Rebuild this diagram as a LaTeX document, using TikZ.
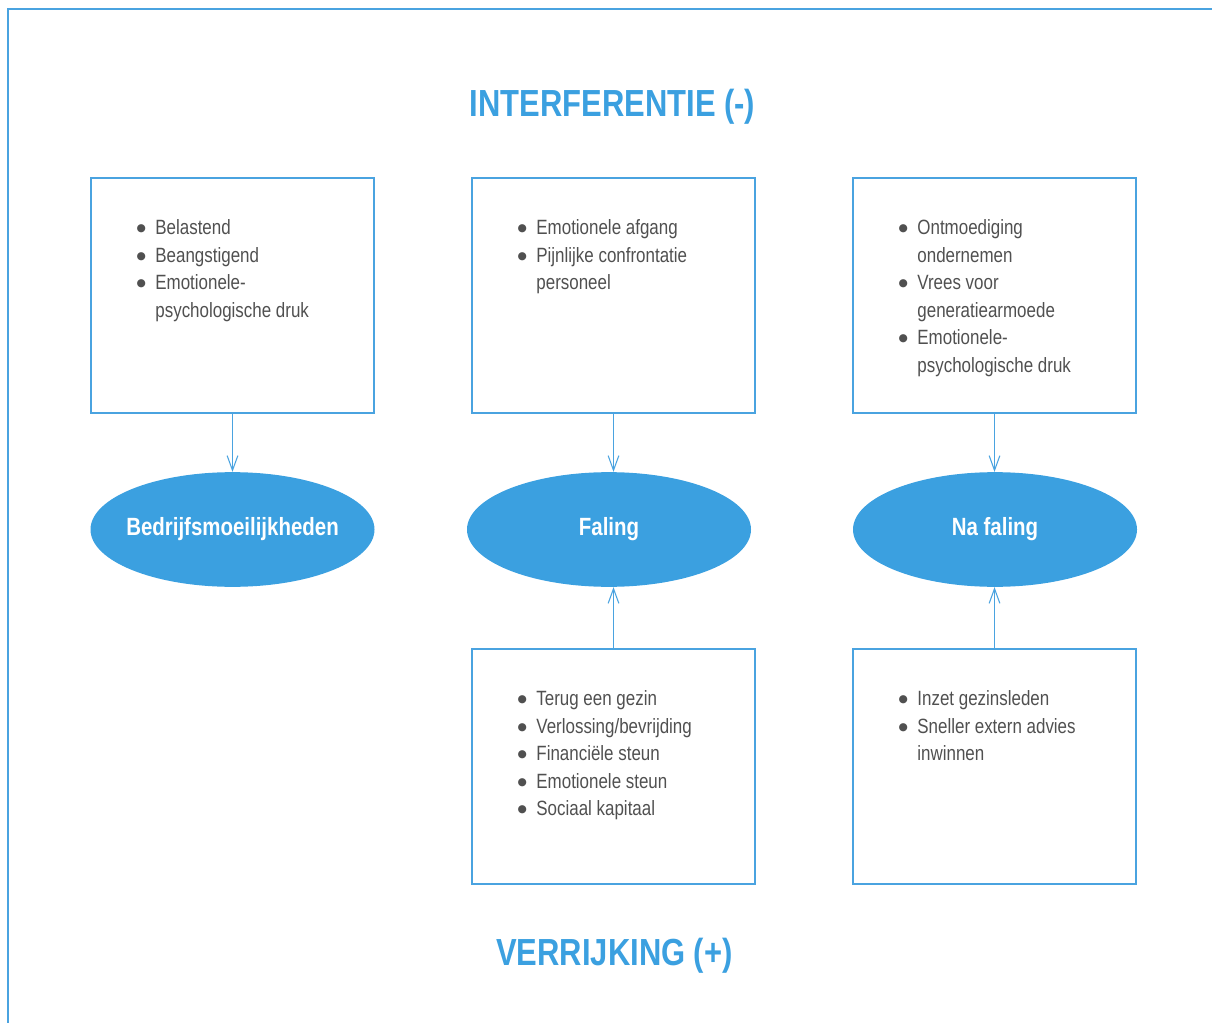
\documentclass[tikz,border=0pt]{standalone}
\usepackage{fontspec}
\setmainfont{Liberation Sans}[FakeStretch=0.82]
\newfontfamily\symfont{DejaVu Sans}
\usetikzlibrary{positioning,arrows.meta,shapes.geometric,calc}
\definecolor{fblue}{HTML}{3BA0E0}
\definecolor{lblue}{HTML}{4AA3E0}
\definecolor{tgray}{HTML}{505050}
\newcommand{\bul}{\makebox[14pt][l]{\raisebox{0.15em}{\fontsize{8}{8}\selectfont\symfont ●}}}
\newcommand{\ind}{\hspace*{14pt}}

\begin{document}
\begin{tikzpicture}[
    x=0.75pt, y=-0.75pt,
    box/.style={draw=lblue, line width=0.8pt, minimum width=212.25pt, minimum height=176.25pt, inner sep=0},
    phase/.style={ellipse, fill=fblue, minimum width=213pt, minimum height=86pt, inner sep=0, text=white, font=\fontsize{18.7}{22}\selectfont\bfseries},
    items/.style={anchor=north west, inner sep=0, align=left, text=tgray, font=\fontsize{15.5}{20.6}\selectfont},
    kop/.style={anchor=base, text=fblue, font=\fontsize{28.3}{32}\selectfont\bfseries},
    link/.style={-{Straight Barb[length=11pt,width=8pt]}, draw=lblue, line width=0.8pt}
]
    \useasboundingbox (0,0) rectangle (1212,1023);

    % outer frame, open at right and bottom
    \coordinate (fl) at (8,1023);
    \coordinate (fc) at (8,9);
    \coordinate (fr) at (1212,9);
    \draw[lblue, line width=1.3pt] (fl) -- (fc) -- (fr);

    % headings
    \node[kop] (neg) at (612.5,117) {INTERFERENTIE (-)};
    \node[kop] (pos) at (614.5,965) {VERRIJKING (+)};

    % boxes
    \node[box] (b1) at (232.5,295.5) {};
    \node[box] (b2) at (613.5,295.5) {};
    \node[box] (b3) at (994.5,295.5) {};
    \node[box] (b4) at (613.5,766.5) {};
    \node[box] (b5) at (994.5,766.5) {};

    % phases (zero-width text so the ellipse keeps its size)
    \node[phase] (e1) at (232.5,529.5) {\makebox[0pt]{Bedrijfsmoeilijkheden}};
    \node[phase] (e2) at (609,529.5) {\makebox[0pt]{Faling}};
    \node[phase] (e3) at (995,529.5) {\makebox[0pt]{Na faling}};

    % box contents
    \node[items] (l1) at ($(b1.north west)+(46,42)$)
        {\bul Belastend\\ \bul Beangstigend\\ \bul Emotionele-\\ \ind psychologische druk};
    \node[items] (l2) at ($(b2.north west)+(46,42)$)
        {\bul Emotionele afgang\\ \bul Pijnlijke confrontatie\\ \ind personeel};
    \node[items] (l3) at ($(b3.north west)+(46,42)$)
        {\bul Ontmoediging\\ \ind ondernemen\\ \bul Vrees voor\\ \ind generatiearmoede\\ \bul Emotionele-\\ \ind psychologische druk};
    \node[items] (l4) at ($(b4.north west)+(46,42)$)
        {\bul Terug een gezin\\ \bul Verlossing/bevrijding\\ \bul Financiële steun\\ \bul Emotionele steun\\ \bul Sociaal kapitaal};
    \node[items] (l5) at ($(b5.north west)+(46,42)$)
        {\bul Inzet gezinsleden\\ \bul Sneller extern advies\\ \ind inwinnen};

    % arrows
    \draw[link] (b1.south) -- (b1.south |- e1.north);
    \draw[link] (b2.south) -- (b2.south |- e2.north);
    \draw[link] (b3.south) -- (b3.south |- e3.north);
    \draw[link] (b4.north) -- (b4.north |- e2.south);
    \draw[link] (b5.north) -- (b5.north |- e3.south);
\end{tikzpicture}
\end{document}
